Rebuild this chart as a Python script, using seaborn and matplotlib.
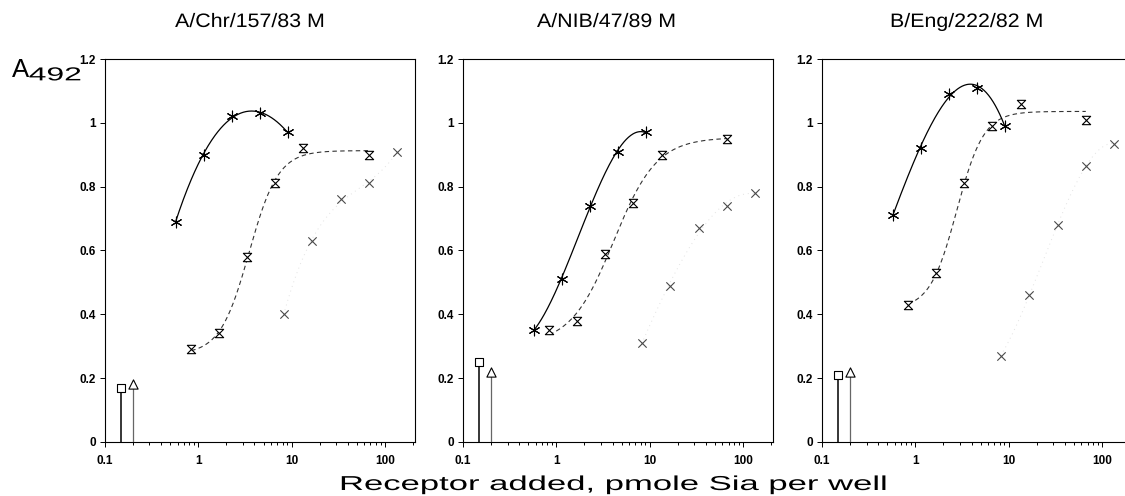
import numpy as np
import matplotlib
matplotlib.use("Agg")
import matplotlib.pyplot as plt
import seaborn as sns
from matplotlib.path import Path
from matplotlib.patheffects import AbstractPathEffect
from matplotlib.transforms import Affine2D
from matplotlib.ticker import LogLocator, NullFormatter

titles = ["A/Chr/157/83 M", "A/NIB/47/89 M", "B/Eng/222/82 M"]

# receptor added, pmole Sia per well
x_star = [0.57, 1.14, 2.28, 4.56, 9.12]
x_hour = [0.84, 1.67, 3.35, 6.7, 13.4, 67]
x_cross = [8.2, 16.6, 33.5, 67, 135]
x_square = 0.15
x_triangle = 0.2

# A492 readings
star_chr = [0.69, 0.90, 1.02, 1.03, 0.97]
hour_chr = [0.29, 0.34, 0.58, 0.81, 0.92, 0.90]
cross_chr = [0.40, 0.63, 0.76, 0.81, 0.91]

star_nib = [0.35, 0.51, 0.74, 0.91, 0.97]
hour_nib = [0.35, 0.38, 0.59, 0.75, 0.90, 0.95]
cross_nib = [0.31, 0.49, 0.67, 0.74, 0.78]

star_eng = [0.71, 0.92, 1.09, 1.11, 0.99]
hour_eng = [0.43, 0.53, 0.81, 0.99, 1.06, 1.01]
cross_eng = [0.27, 0.46, 0.68, 0.865, 0.935]

square_vals = [0.17, 0.25, 0.21]
triangle_vals = [0.18, 0.22, 0.22]

yticks = [0, 0.2, 0.4, 0.6, 0.8, 1.0, 1.2]
yticklabels = ["0", "0.2", "0.4", "0.6", "0.8", "1", "1.2"]
xticks = [0.1, 1, 10, 100]
xticklabels = ["0.1", "1", "10", "100"]


class Stretch(AbstractPathEffect):
    # widen text horizontally (the original lettering is very wide)
    def __init__(self, sx):
        super().__init__()
        self.sx = sx

    def draw_path(self, renderer, gc, tpath, affine, rgbFace=None):
        renderer.draw_path(gc, tpath, Affine2D().scale(self.sx, 1) + affine, rgbFace)


def poly_curve(x, y, deg=3):
    lx = np.log10(x)
    coef = np.polyfit(lx, y, deg)
    xs = np.logspace(lx.min(), lx.max(), 200)
    return xs, np.polyval(coef, np.log10(xs))


def logistic_curve(x, y):
    # 4-parameter logistic in log10(x); bottom/top solved by least squares
    lx = np.log10(x)
    y = np.asarray(y)
    best = None
    for c in np.arange(lx.min(), lx.max(), 0.01):
        for h in np.arange(0.5, 4.0, 0.02):
            s = 1 / (1 + 10 ** (h * (c - lx)))
            A = np.column_stack([1 - s, s])
            coef, *_ = np.linalg.lstsq(A, y, rcond=None)
            err = np.sum((A @ coef - y) ** 2)
            if best is None or err < best[0]:
                best = (err, c, h, coef)
    _, c, h, (b, t) = best
    xs = np.logspace(lx.min(), lx.max(), 200)
    s = 1 / (1 + 10 ** (h * (c - np.log10(xs))))
    return xs, b + (t - b) * s


hourglass = Path([(-1, 1), (1, 1), (-1, -1), (1, -1), (-1, 1)],
                 [Path.MOVETO, Path.LINETO, Path.LINETO, Path.LINETO, Path.CLOSEPOLY])

sns.set_theme(style="ticks")
plt.rcParams["font.family"] = ["Liberation Sans", "DejaVu Sans"]

fig = plt.figure(figsize=(11.25, 4.96), dpi=100)

lefts = [0.0933, 0.4116, 0.7307]
title_x = [0.1556, 0.4773, 0.7911]
stars = [star_chr, star_nib, star_eng]
hours = [hour_chr, hour_nib, hour_eng]
crosses = [cross_chr, cross_nib, cross_eng]

for i in range(3):
    ax = fig.add_axes([lefts[i], 0.109, 0.2756, 0.772])
    ax.set_xscale("log")

    # fitted curves
    xs, ys = poly_curve(np.array(x_cross), np.array(crosses[i]))
    sns.lineplot(x=xs, y=ys, ax=ax, color="#e2e2e2", lw=0.7, linestyle=(0, (1, 4)))
    xs, ys = logistic_curve(np.array(x_hour), np.array(hours[i]))
    sns.lineplot(x=xs, y=ys, ax=ax, color="#333333", lw=0.8, linestyle=(0, (4, 3)))
    xs, ys = poly_curve(np.array(x_star), np.array(stars[i]))
    sns.lineplot(x=xs, y=ys, ax=ax, color="black", lw=0.9)

    # controls with stems
    ax.vlines(x_square, 0, square_vals[i], color="black", lw=1.1, zorder=3)
    ax.vlines(x_triangle, 0, triangle_vals[i], color="#666666", lw=0.9, zorder=3)
    sns.scatterplot(x=[x_square], y=[square_vals[i]], ax=ax, marker="s", s=30,
                    color="white", edgecolor="black", linewidth=0.8, zorder=4)
    sns.scatterplot(x=[x_triangle], y=[triangle_vals[i]], ax=ax, marker="^", s=44,
                    color="white", edgecolor="black", linewidth=0.8, zorder=4)

    # data points
    sns.scatterplot(x=x_cross, y=crosses[i], ax=ax, marker="x", s=36,
                    color="#4a4a4a", linewidth=0.8, zorder=4)
    sns.scatterplot(x=x_hour, y=hours[i], ax=ax, marker=hourglass, s=36,
                    color="white", edgecolor="black", linewidth=0.8, zorder=4)
    sns.scatterplot(x=x_star, y=stars[i], ax=ax, marker=(6, 2, 0), s=60,
                    color="black", linewidth=0.8, zorder=4)

    ax.set_xlim(0.1, 210)
    ax.set_ylim(0, 1.2)
    ax.set_xticks(xticks)
    ax.set_xticklabels(xticklabels)
    ax.xaxis.set_minor_locator(LogLocator(base=10, subs=np.arange(2, 10) * 1.0, numticks=20))
    ax.xaxis.set_minor_formatter(NullFormatter())
    ax.set_yticks(yticks)
    ax.set_yticklabels(yticklabels)
    ax.tick_params(which="both", direction="out", width=0.7, color="black",
                   labelcolor="black", labelsize=8.5)
    ax.tick_params(which="major", length=3.5)
    ax.tick_params(which="minor", length=2.5)
    ax.tick_params(axis="x", pad=6)
    ax.tick_params(axis="y", pad=3)
    for lab in ax.get_xticklabels() + ax.get_yticklabels():
        lab.set_fontweight("bold")
    for sp in ax.spines.values():
        sp.set_visible(True)
        sp.set_color("black")
        sp.set_linewidth(0.8)
    ax.set_xlabel("")
    ax.set_ylabel("")

    fig.text(title_x[i], 0.9456, titles[i], fontsize=14, ha="left", va="baseline",
             color="black", path_effects=[Stretch(1.1)])

fig.text(0.0107, 0.845, "A", fontsize=18.5, ha="left", va="baseline", color="black")
fig.text(0.0255, 0.838, "492", fontsize=13.5, ha="left", va="baseline", color="black",
         path_effects=[Stretch(1.7)])
fig.text(0.3013, 0.0121, "Receptor added, pmole Sia per well", fontsize=14.5,
         ha="left", va="baseline", color="black", path_effects=[Stretch(1.72)])

plt.savefig("out.png", dpi=100)
